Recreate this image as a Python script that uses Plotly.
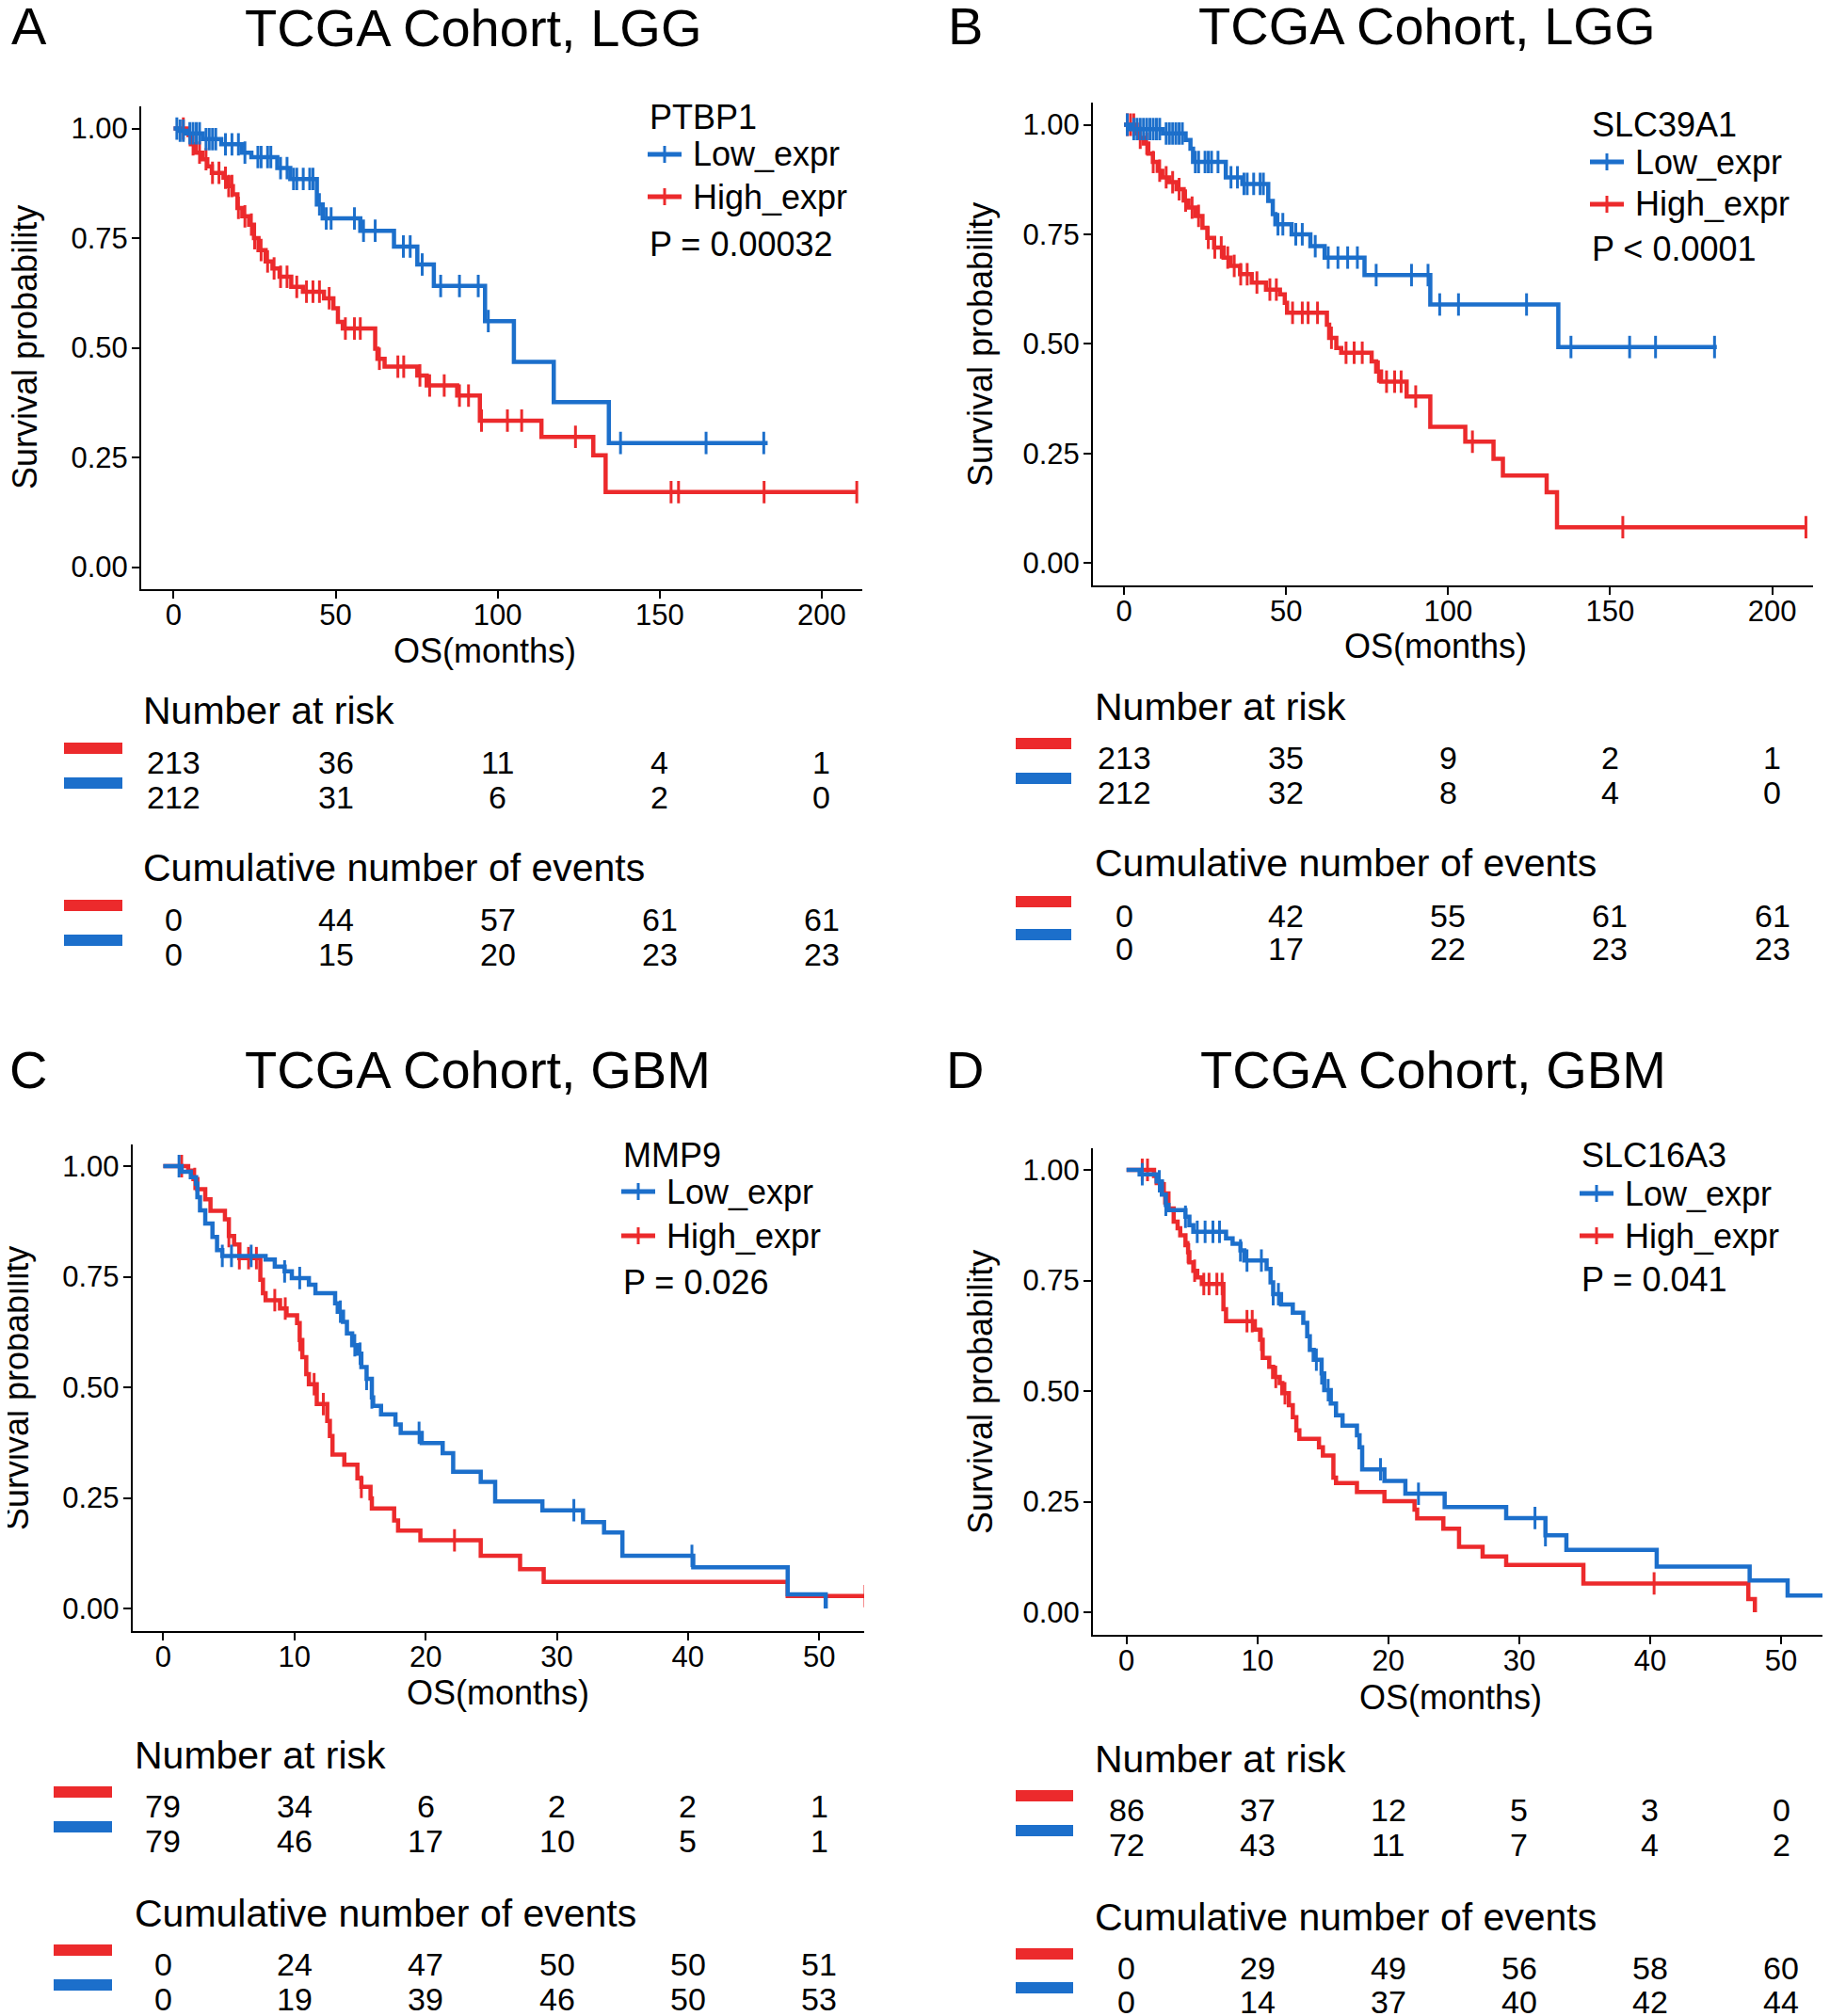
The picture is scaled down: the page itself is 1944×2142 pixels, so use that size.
import numpy as np
import plotly.graph_objects as go

W, H = 1944, 2142
OFF = 8  # default page body margin of the browser
RED = "#EC2A2C"
BLUE = "#1C6FCB"
FONT = "Liberation Sans, Arial, sans-serif"

# ---------------- DATA ----------------
# Panel A: TCGA LGG, PTBP1
A_low_t = [0, 1.5, 4, 9, 14.7, 21, 24, 32, 36, 44.2, 46, 57.6, 68, 75.2, 80.3, 96.1, 105, 117.3, 134.3, 183.3]
A_low_s = [1.0, 0.995, 0.989, 0.976, 0.964, 0.945, 0.935, 0.91, 0.885, 0.827, 0.795, 0.767, 0.731, 0.69, 0.641, 0.561, 0.468, 0.376, 0.283, 0.283]
A_low_cens = [1, 2, 3, 5, 6, 7, 8, 10, 11, 12, 13, 16, 18, 20, 22, 26, 27, 29, 30, 33, 35, 37, 38, 40, 42, 43, 45,
              47.1, 48.6, 55.8, 58.6, 62.2, 70.9, 73, 76.7, 82.4, 88.2, 94, 97.1, 137.9, 164.3, 182.1]
A_high_t = [0, 4.6, 5.3, 6.8, 8.9, 10.4, 11.8, 15.4, 16.9, 18.3, 19.7, 21.2, 23.3, 24.8, 26.2, 28.4, 30.5, 32.7, 36.3,
            39.9, 46.4, 49.3, 50.7, 52.2, 62.2, 62.9, 65.1, 75.2, 78.1, 87.5, 94.5, 113.5, 129.5, 133.3, 211]
A_high_s = [1.0, 0.985, 0.964, 0.945, 0.93, 0.914, 0.899, 0.888, 0.869, 0.85, 0.819, 0.8, 0.781, 0.75, 0.723, 0.697,
            0.681, 0.662, 0.639, 0.628, 0.613, 0.59, 0.559, 0.544, 0.498, 0.475, 0.457, 0.437, 0.414, 0.391, 0.334,
            0.297, 0.255, 0.171, 0.171]
A_high_cens = [3, 6, 8, 10, 12, 14, 16, 17, 18, 20, 22, 24, 25, 27, 29, 31, 33, 35, 38, 41, 43, 45, 48, 53, 55.8,
               57.6, 63.5, 69.2, 71, 76, 79, 83.5, 88.2, 91, 95, 103, 107.4, 124, 153.5, 155.8, 182.2, 210.8]
A_times = [0, 50, 100, 150, 200]
A_risk_high = [213, 36, 11, 4, 1]
A_risk_low = [212, 31, 6, 2, 0]
A_cum_high = [0, 44, 57, 61, 61]
A_cum_low = [0, 15, 20, 23, 23]

# Panel B: TCGA LGG, SLC39A1
B_low_t = [0, 2, 12, 19, 20.5, 21.3, 31.4, 36.5, 44.5, 45.9, 46.7, 51.7, 57.5, 61.9, 74.2, 94.5, 134, 182.9]
B_low_s = [1.0, 0.99, 0.98, 0.965, 0.945, 0.915, 0.88, 0.865, 0.826, 0.796, 0.773, 0.75, 0.723, 0.697, 0.657, 0.59, 0.493, 0.493]
B_low_cens = [1, 3, 4, 5, 6, 7, 8, 9, 10, 11, 13, 14, 15, 16, 17, 18, 22, 23, 25, 26, 27, 29, 33, 35, 37, 38, 40,
              42, 43, 47.5, 49, 53, 55, 59, 63, 66, 69, 72, 77.8, 88.7, 93.8, 97.4, 103.2, 124.2, 137.9, 156, 164, 182.2]
B_high_t = [0, 3.9, 4.6, 6.1, 7.5, 8.9, 10.4, 11.8, 14, 16.2, 18.4, 19.9, 22, 24.2, 25.7, 27.8, 30.7, 32.9, 35.8,
            39.4, 43.8, 48.1, 49.6, 50.3, 62.6, 63.3, 65.5, 67, 76.4, 77.8, 79.3, 87.2, 94.5, 105.3, 114, 116.9,
            130.4, 133.6, 210.4]
B_high_s = [1.0, 0.98, 0.97, 0.957, 0.934, 0.915, 0.895, 0.88, 0.869, 0.853, 0.827, 0.811, 0.792, 0.765, 0.742,
            0.72, 0.697, 0.678, 0.659, 0.64, 0.624, 0.613, 0.594, 0.571, 0.544, 0.514, 0.491, 0.48, 0.46, 0.437,
            0.414, 0.38, 0.311, 0.277, 0.238, 0.2, 0.162, 0.082, 0.082]
B_high_cens = [1, 2, 3, 5, 7, 9, 11, 13, 15, 17, 19, 21, 23, 26, 28, 30, 32, 34, 36, 38, 41, 45, 47, 52, 55, 56.8,
               59.7, 64, 68.5, 71, 73.5, 78.5, 81, 83.5, 85.5, 90, 107.5, 153.9, 210.4]
B_times = [0, 50, 100, 150, 200]
B_risk_high = [213, 35, 9, 2, 1]
B_risk_low = [212, 32, 8, 4, 0]
B_cum_high = [0, 42, 55, 61, 61]
B_cum_low = [0, 17, 22, 23, 23]

# Panel C: TCGA GBM, MMP9
C_low_t = [0, 1.4, 2.1, 2.5, 2.6, 2.8, 3.2, 3.75, 4.1, 4.5, 7.8, 8.5, 9.25, 9.8, 11.1, 11.6, 13.1, 13.3, 13.7, 14.0,
           14.4, 14.8, 15.1, 15.5, 15.9, 16.0, 16.6, 17.7, 18.1, 19.7, 21.3, 22.1, 24.2, 25.3, 28.9, 32.0, 33.6,
           35.0, 40.4, 47.6, 50.5]
C_low_s = [1.0, 0.987, 0.975, 0.96, 0.93, 0.90, 0.87, 0.84, 0.81, 0.797, 0.789, 0.773, 0.762, 0.747, 0.732, 0.713,
           0.69, 0.671, 0.648, 0.622, 0.595, 0.576, 0.546, 0.519, 0.477, 0.458, 0.439, 0.416, 0.397, 0.374, 0.351,
           0.309, 0.286, 0.242, 0.222, 0.195, 0.172, 0.119, 0.093, 0.032, 0.0]
C_low_cens = [1.2, 4.5, 5.2, 6.7, 9.25, 10.4, 13.5, 14.6, 15.0, 15.5, 15.9, 19.5, 31.3, 40.3]
C_high_t = [0, 1.9, 2.3, 2.6, 3.2, 3.6, 4.7, 5.0, 5.4, 5.8, 7.4, 7.6, 7.8, 8.9, 9.4, 10.2, 10.4, 10.6, 10.9, 11.1,
            11.7, 12.5, 12.7, 12.9, 13.8, 14.8, 15.1, 15.8, 15.9, 17.6, 17.9, 19.6, 24.2, 27.2, 29.0, 47.6, 53.5]
C_high_s = [1.0, 0.99, 0.971, 0.948, 0.925, 0.899, 0.88, 0.842, 0.823, 0.792, 0.743, 0.713, 0.697, 0.678, 0.663,
            0.645, 0.607, 0.568, 0.53, 0.507, 0.462, 0.424, 0.39, 0.348, 0.325, 0.294, 0.275, 0.249, 0.226, 0.199,
            0.176, 0.154, 0.119, 0.089, 0.06, 0.028, 0.028]
C_high_cens = [1.4, 2.4, 5.0, 5.8, 6.5, 7.1, 8.5, 9.3, 10.4, 11.5, 12.2, 15.1, 22.2, 53.5]
C_times = [0, 10, 20, 30, 40, 50]
C_risk_high = [79, 34, 6, 2, 2, 1]
C_risk_low = [79, 46, 17, 10, 5, 1]
C_cum_high = [0, 24, 47, 50, 50, 51]
C_cum_low = [0, 19, 39, 46, 50, 53]

# Panel D: TCGA GBM, SLC16A3
D_low_t = [0, 1.0, 2.3, 2.7, 3.0, 3.2, 4.5, 4.8, 5.1, 7.6, 8.1, 8.7, 9.0, 10.7, 11.0, 11.2, 11.8, 12.7, 13.5, 13.8,
           14.0, 14.3, 14.9, 15.1, 15.6, 16.0, 16.5, 17.6, 17.8, 18.0, 19.7, 21.3, 24.3, 29.0, 32.0, 33.6, 40.5,
           47.6, 50.5, 53.5]
D_low_s = [1.0, 0.99, 0.974, 0.944, 0.921, 0.909, 0.894, 0.875, 0.86, 0.845, 0.833, 0.818, 0.795, 0.776, 0.746,
           0.719, 0.696, 0.677, 0.654, 0.624, 0.593, 0.571, 0.54, 0.502, 0.472, 0.445, 0.422, 0.4, 0.373, 0.323,
           0.297, 0.268, 0.238, 0.213, 0.174, 0.141, 0.103, 0.072, 0.038, 0.038]
D_low_cens = [1.2, 2.5, 3.0, 4.5, 5.4, 6.0, 6.6, 7.1, 8.7, 9.2, 10.3, 11.2, 11.6, 14.5, 14.9, 15.4, 19.4, 22.3, 31.2, 32]
D_high_t = [0, 2.1, 2.3, 2.7, 3.2, 3.6, 3.9, 4.1, 4.5, 4.7, 4.8, 5.1, 5.4, 5.75, 7.4, 7.6, 9.8, 10.2, 10.4, 10.9,
            11.2, 11.7, 11.9, 12.4, 12.7, 12.97, 13.2, 14.7, 15.0, 15.8, 16.0, 17.6, 19.7, 22.0, 22.2, 24.2, 25.4,
            27.2, 29.0, 34.9, 47.5, 48.0]
D_high_s = [1.0, 0.986, 0.97, 0.947, 0.913, 0.883, 0.868, 0.852, 0.83, 0.814, 0.791, 0.772, 0.757, 0.742, 0.685,
            0.658, 0.639, 0.616, 0.575, 0.555, 0.532, 0.518, 0.495, 0.468, 0.441, 0.411, 0.392, 0.373, 0.354, 0.304,
            0.292, 0.272, 0.251, 0.232, 0.212, 0.189, 0.148, 0.126, 0.107, 0.065, 0.03, 0.0]
D_high_cens = [1.2, 1.6, 2.9, 4.7, 5.2, 5.9, 6.3, 6.9, 7.3, 9.2, 9.6, 10.3, 11.4, 12.1, 40.3]
D_times = [0, 10, 20, 30, 40, 50]
D_risk_high = [86, 37, 12, 5, 3, 0]
D_risk_low = [72, 43, 11, 7, 4, 2]
D_cum_high = [0, 29, 49, 56, 58, 60]
D_cum_low = [0, 14, 37, 40, 42, 44]

titles = ["TCGA Cohort, LGG", "TCGA Cohort, LGG", "TCGA Cohort, GBM", "TCGA Cohort, GBM"]
letters = ["A", "B", "C", "D"]
genes = ["PTBP1", "SLC39A1", "MMP9", "SLC16A3"]
pvals = ["P = 0.00032", "P < 0.0001", "P = 0.026", "P = 0.041"]

panels_data = [
    (A_low_t, A_low_s, A_low_cens, A_high_t, A_high_s, A_high_cens, A_times, A_risk_high, A_risk_low, A_cum_high, A_cum_low),
    (B_low_t, B_low_s, B_low_cens, B_high_t, B_high_s, B_high_cens, B_times, B_risk_high, B_risk_low, B_cum_high, B_cum_low),
    (C_low_t, C_low_s, C_low_cens, C_high_t, C_high_s, C_high_cens, C_times, C_risk_high, C_risk_low, C_cum_high, C_cum_low),
    (D_low_t, D_low_s, D_low_cens, D_high_t, D_high_s, D_high_cens, D_times, D_risk_high, D_risk_low, D_cum_high, D_cum_low),
]

# ---------------- LAYOUT (page pixel positions) ----------------
L = [
    dict(xd=(150, 916), yd=(113.3, 625.8), xr=(-10.0, 212.5), letter=(31, 27), title=(503, 30),
         ytitle=(27, 369), xtitle=(515, 691), leg_x=688, leg_y=(124, 164, 209, 260),
         bar_x=(68, 130), tab_x=150, tab_y=(755, 810, 847, 922, 977, 1014)),
    dict(xd=(1161, 1926), yd=(109.2, 621.7), xr=(-9.6, 212.6), letter=(1025, 27), title=(1516, 27),
         ytitle=(1041, 366), xtitle=(1525, 687), leg_x=1689, leg_y=(132, 172, 217, 264),
         bar_x=(1079, 1138), tab_x=1161, tab_y=(751, 805, 842, 917, 973, 1008)),
    dict(xd=(140.7, 918), yd=(1215.5, 1732.5), xr=(-2.35, 53.43), letter=(30, 1136), title=(508, 1136),
         ytitle=(17, 1475), xtitle=(529, 1798), leg_x=660, leg_y=(1227, 1266, 1313, 1362),
         bar_x=(57, 119), tab_x=141, tab_y=(1865, 1919, 1956, 2033, 2087, 2124)),
    dict(xd=(1161, 1940), yd=(1219.5, 1736.5), xr=(-2.57, 53.45), letter=(1025, 1136), title=(1522, 1136),
         ytitle=(1041, 1479), xtitle=(1541, 1803), leg_x=1678, leg_y=(1227, 1268, 1313, 1359),
         bar_x=(1079, 1140), tab_x=1161, tab_y=(1869, 1923, 1960, 2037, 2091, 2127)),
]

FW, FH = W - OFF, H - OFF


def fx(px):
    return (px - OFF) / FW


def fy(py):
    return 1 - (py - OFF) / FH


def surv_at(ts, ss, t):
    idx = np.searchsorted(np.asarray(ts), t, side="right") - 1
    return [ss[i] for i in idx]


fig = go.Figure()
annotations = []
shapes = []

for i, (pdata, lay) in enumerate(zip(panels_data, L)):
    lt, ls, lc, ht, hs, hc, times, rh, rl, ch, cl = pdata
    k = "" if i == 0 else str(i + 1)
    xa, ya = "x" + k, "y" + k
    # curves: High first, Low drawn on top
    for tt, ss, cc, col, nm in [(ht, hs, hc, RED, "High_expr"), (lt, ls, lc, BLUE, "Low_expr")]:
        fig.add_trace(go.Scatter(x=tt, y=ss, mode="lines", name=nm, showlegend=False,
                                 line=dict(shape="hv", color=col, width=4.5), xaxis=xa, yaxis=ya,
                                 hoverinfo="skip"))
        fig.add_trace(go.Scatter(x=cc, y=surv_at(tt, ss, cc), mode="markers", showlegend=False,
                                 marker=dict(symbol="line-ns", size=17, color=col,
                                             line=dict(width=3, color=col)),
                                 xaxis=xa, yaxis=ya, hoverinfo="skip"))
    axis_common = dict(showline=True, linecolor="black", linewidth=2, ticks="outside", ticklen=8,
                       tickwidth=2, tickcolor="black", showgrid=False, zeroline=False,
                       tickfont=dict(family=FONT, size=31, color="black"))
    fig.layout["xaxis" + k] = dict(domain=[fx(lay["xd"][0]), fx(lay["xd"][1])], range=list(lay["xr"]),
                                   tickvals=times, anchor=ya, ticklabelstandoff=-9, **axis_common)
    fig.layout["yaxis" + k] = dict(domain=[fy(lay["yd"][1]), fy(lay["yd"][0])], range=[-0.05, 1.05],
                                   tickvals=[0, 0.25, 0.5, 0.75, 1.0], tickformat=".2f", anchor=xa,
                                   ticklabelstandoff=-2, **axis_common)

    def txt(text, x, y, size, xanchor="center", xref="paper", textangle=0):
        annotations.append(dict(text=text, x=x, y=fy(y), xref=xref, yref="paper", showarrow=False,
                                xanchor=xanchor, yanchor="middle", textangle=textangle,
                                font=dict(family=FONT, size=size, color="black")))

    txt(letters[i], fx(lay["letter"][0]), lay["letter"][1], 56)
    txt(titles[i], fx(lay["title"][0]), lay["title"][1], 56)
    txt("Survival probability", fx(lay["ytitle"][0]), lay["ytitle"][1], 36, textangle=-90)
    txt("OS(months)", fx(lay["xtitle"][0]), lay["xtitle"][1], 36)

    # legend block
    lx = lay["leg_x"]
    ly = lay["leg_y"]
    txt(genes[i], fx(lx), ly[0], 36, xanchor="left")
    for yy, col, nm in [(ly[1], BLUE, "Low_expr"), (ly[2], RED, "High_expr")]:
        shapes.append(dict(type="line", xref="paper", yref="paper", x0=fx(lx), x1=fx(lx + 36),
                           y0=fy(yy), y1=fy(yy), line=dict(color=col, width=5)))
        shapes.append(dict(type="line", xref="paper", yref="paper", x0=fx(lx + 18), x1=fx(lx + 18),
                           y0=fy(yy - 9), y1=fy(yy + 9), line=dict(color=col, width=3)))
        txt(nm, fx(lx + 46), yy, 36, xanchor="left")
    txt(pvals[i], fx(lx), ly[3], 36, xanchor="left")

    # risk tables
    ty = lay["tab_y"]
    bx = lay["bar_x"]
    txt("Number at risk", fx(lay["tab_x"]), ty[0], 41, xanchor="left")
    txt("Cumulative number of events", fx(lay["tab_x"]), ty[3], 41, xanchor="left")
    for row_y, vals, col in [(ty[1], rh, RED), (ty[2], rl, BLUE), (ty[4], ch, RED), (ty[5], cl, BLUE)]:
        shapes.append(dict(type="rect", xref="paper", yref="paper", x0=fx(bx[0]), x1=fx(bx[1]),
                           y0=fy(row_y - 15 + 6), y1=fy(row_y - 15 - 6), fillcolor=col, line=dict(width=0)))
        for t, v in zip(times, vals):
            txt(str(v), t, row_y, 34, xref=xa)

fig.update_layout(width=FW, height=FH, margin=dict(l=0, r=0, t=0, b=0), paper_bgcolor="white",
                  plot_bgcolor="white", annotations=annotations, shapes=shapes, showlegend=False,
                  font=dict(family=FONT, color="black"))
fig.write_html("out.html")
